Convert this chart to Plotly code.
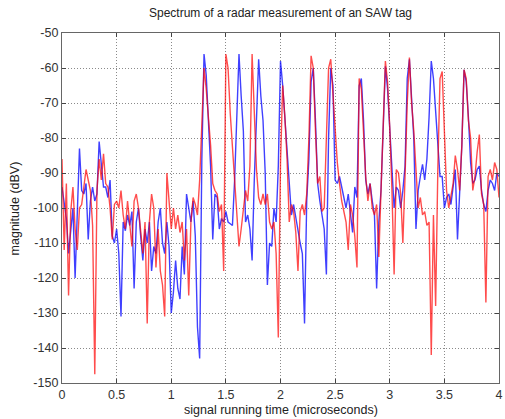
import plotly.graph_objects as go

time_us = [
    0.00, 0.02, 0.04, 0.06, 0.08, 0.10, 0.12, 0.14, 0.16, 0.18,
    0.20, 0.22, 0.24, 0.26, 0.28, 0.30, 0.32, 0.34, 0.36, 0.38,
    0.40, 0.42, 0.44, 0.46, 0.48, 0.50, 0.52, 0.54, 0.56, 0.58,
    0.60, 0.62, 0.64, 0.66, 0.68, 0.70, 0.72, 0.74, 0.76, 0.78,
    0.80, 0.82, 0.84, 0.86, 0.88, 0.90, 0.92, 0.94, 0.96, 0.98,
    1.00, 1.02, 1.04, 1.06, 1.08, 1.10, 1.12, 1.14, 1.16, 1.18,
    1.20, 1.22, 1.24, 1.26, 1.28, 1.30, 1.32, 1.34, 1.36, 1.38,
    1.40, 1.42, 1.44, 1.46, 1.48, 1.50, 1.52, 1.54, 1.56, 1.58,
    1.60, 1.62, 1.64, 1.66, 1.68, 1.70, 1.72, 1.74, 1.76, 1.78,
    1.80, 1.82, 1.84, 1.86, 1.88, 1.90, 1.92, 1.94, 1.96, 1.98,
    2.00, 2.02, 2.04, 2.06, 2.08, 2.10, 2.12, 2.14, 2.16, 2.18,
    2.20, 2.22, 2.24, 2.26, 2.28, 2.30, 2.32, 2.34, 2.36, 2.38,
    2.40, 2.42, 2.44, 2.46, 2.48, 2.50, 2.52, 2.54, 2.56, 2.58,
    2.60, 2.62, 2.64, 2.66, 2.68, 2.70, 2.72, 2.74, 2.76, 2.78,
    2.80, 2.82, 2.84, 2.86, 2.88, 2.90, 2.92, 2.94, 2.96, 2.98,
    3.00, 3.02, 3.04, 3.06, 3.08, 3.10, 3.12, 3.14, 3.16, 3.18,
    3.20, 3.22, 3.24, 3.26, 3.28, 3.30, 3.32, 3.34, 3.36, 3.38,
    3.40, 3.42, 3.44, 3.46, 3.48, 3.50, 3.52, 3.54, 3.56, 3.58,
    3.60, 3.62, 3.64, 3.66, 3.68, 3.70, 3.72, 3.74, 3.76, 3.78,
    3.80, 3.82, 3.84, 3.86, 3.88, 3.90, 3.92, 3.94, 3.96, 3.98,
    4.00,
]

blue_dbv = [
    -94, -99, -103, -113, -106, -100, -120, -100, -83, -95,
    -96, -93, -109, -98, -94, -98, -96, -81, -88, -94,
    -94, -97, -92, -108, -110, -106, -113, -131, -104, -106.5,
    -102, -105, -101, -123, -104, -100, -108, -115, -106, -110,
    -104, -118, -111, -113, -104, -100, -110, -113, -104, -111,
    -130, -124, -115, -123, -126, -111, -119, -96, -100, -104,
    -98, -108, -134, -143, -86, -56, -62, -75, -88, -109,
    -96, -97, -106, -103, -104, -101, -104, -104.5, -105, -92,
    -73, -56, -68, -78, -104, -102, -106, -115, -92, -72,
    -57.5, -68, -75, -90, -122, -110, -111, -100, -104, -88,
    -58, -65, -75, -82, -95, -102, -99, -103, -106, -110,
    -113, -133, -98, -86, -64, -60, -75, -93, -98, -102,
    -106, -119, -80, -60, -65, -92, -93, -91, -94, -98,
    -100, -96, -102, -107, -94, -97, -65, -63, -75, -92,
    -96, -93, -98, -102, -123, -104, -95, -78, -59.5, -66,
    -77.5, -92, -100, -94, -95, -100, -95, -88, -63, -57.5,
    -68, -80, -106, -95, -91, -87.5, -92, -86, -74, -58,
    -63, -73, -80, -91, -91, -100, -97, -96, -99, -94,
    -89, -109, -94, -82, -60.5, -64, -74, -87, -93, -92,
    -89, -88, -95, -99, -101, -95, -92, -93, -95, -90,
    -91,
]

red_dbv = [
    -86, -112, -93, -125, -101, -94, -106, -112, -100, -99,
    -94, -89, -92, -95, -105, -147.5, -95, -86, -92, -84.5,
    -93, -94, -100, -109, -99, -98, -100, -95, -102, -106,
    -98, -104, -111, -98, -96, -100, -107, -113, -104, -133,
    -104, -96, -100, -117, -106, -118, -122, -131, -90, -97,
    -106, -100, -106, -102, -107, -104, -115, -106, -125, -104,
    -97, -99, -102, -92, -75, -60, -66, -73, -82, -93,
    -95, -96, -101, -99, -118, -56, -60, -73, -82, -94,
    -102, -111, -106, -101, -95, -98, -88, -56, -73, -89,
    -97, -99, -96, -99, -96, -104, -106, -104, -113, -137,
    -87, -65, -74, -86, -104, -99, -101, -107, -118, -101,
    -99, -102, -96, -80, -56.5, -60, -78, -93, -91, -101,
    -100, -78, -60, -57.5, -67, -76, -87, -93, -98, -101,
    -104, -112, -99, -102, -108, -117, -63, -66, -78, -91,
    -98, -93, -100, -102, -99, -114, -95, -78, -58, -64,
    -77, -95, -119, -89, -90, -96, -110, -91, -70, -57,
    -70, -78, -89, -100, -97, -102, -101, -105, -104, -142,
    -102, -128, -89, -63, -61, -78, -95, -100, -97, -93,
    -85, -89, -95, -82, -60.5, -63, -75, -80, -95, -91,
    -84, -79, -96, -99, -127, -91, -89, -92, -87, -89,
    -97,
]

x_tick_vals = [0, 0.5, 1, 1.5, 2, 2.5, 3, 3.5, 4]
x_tick_text = ["0", "0.5", "1", "1.5", "2", "2.5", "3", "3.5", "4"]
y_tick_vals = [-150, -140, -130, -120, -110, -100, -90, -80, -70, -60, -50]
y_tick_text = ["-150", "-140", "-130", "-120", "-110", "-100", "-90", "-80", "-70", "-60", "-50"]

FONT = "Liberation Sans, Arial, sans-serif"

fig = go.Figure()
fig.add_trace(go.Scatter(x=time_us, y=blue_dbv, mode="lines",
                         line=dict(color="rgba(0,0,255,0.75)", width=1.4),
                         showlegend=False))
fig.add_trace(go.Scatter(x=time_us, y=red_dbv, mode="lines",
                         line=dict(color="rgba(255,0,0,0.7)", width=1.4),
                         showlegend=False))

axis_common = dict(
    showline=True, linecolor="#666666", linewidth=1.2, mirror="ticks",
    ticks="inside", ticklen=4, tickcolor="#444444",
    showgrid=True, gridcolor="#8a8a8a", griddash="1px,2px", gridwidth=1,
    zeroline=False, ticklabeloverflow="allow",
    tickfont=dict(family=FONT, size=12.5, color="#333333"),
)

fig.update_layout(
    width=505, height=419,
    margin=dict(l=62, r=2, t=33, b=36),
    paper_bgcolor="white", plot_bgcolor="white",
    title=dict(text="Spectrum of a radar measurement of an SAW tag",
               x=0.5, xref="paper", xanchor="center",
               y=1 - 13 / 419, yref="container", yanchor="middle",
               font=dict(family=FONT, size=12, color="#222222")),
    xaxis=dict(range=[0, 4], tickvals=x_tick_vals, ticktext=x_tick_text, **axis_common),
    yaxis=dict(range=[-150, -50], tickvals=y_tick_vals, ticktext=y_tick_text, **axis_common),
    annotations=[
        dict(text="signal running time (microseconds)", xref="paper", yref="paper",
             x=0.5, y=(383 - 410) / 350, xanchor="center", yanchor="middle",
             showarrow=False, font=dict(family=FONT, size=12.5, color="#222222")),
        dict(text="magnitude (dBV)", xref="paper", yref="paper",
             x=(15 - 62) / 441, y=0.5, xanchor="center", yanchor="middle",
             textangle=-90, showarrow=False,
             font=dict(family=FONT, size=12.5, color="#222222")),
    ],
)

fig.write_html("out.html")
